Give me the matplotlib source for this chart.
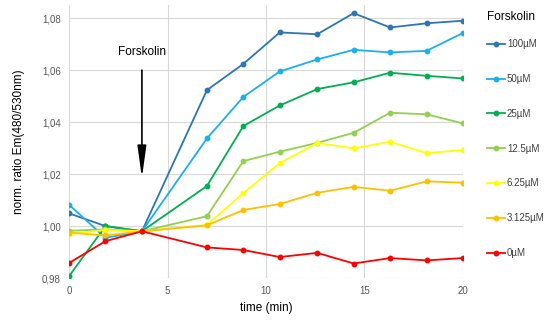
import matplotlib.pyplot as plt
from matplotlib.ticker import FuncFormatter, MultipleLocator

plt.rcParams['font.family'] = ['Liberation Sans', 'DejaVu Sans']

# time points (min)
time = [0, 1.85, 3.7, 7.0, 8.85, 10.7, 12.6, 14.45, 16.3, 18.15, 20]

labels = ['100µM', '50µM', '25µM', '12.5µM', '6.25µM', '3.125µM', '0µM']
colors = ['#2e75b6', '#1ab0f0', '#00b050', '#92d050', '#ffff00', '#ffc000', '#ff0000']

c100 = [1.0049, 1.0000, 0.998, 1.0523, 1.0624, 1.0745, 1.0738, 1.0819, 1.0764, 1.0780, 1.0790]
c50 = [1.0082, 0.9955, 0.998, 1.0337, 1.0497, 1.0595, 1.0641, 1.0678, 1.0668, 1.0674, 1.0743]
c25 = [0.9807, 1.0000, 0.998, 1.0154, 1.0385, 1.0464, 1.0527, 1.0553, 1.0590, 1.0578, 1.0568]
c12 = [0.9982, 0.9987, 0.998, 1.0038, 1.0250, 1.0286, 1.0320, 1.0359, 1.0436, 1.0430, 1.0395]
c6 = [0.9969, 0.9985, 0.998, 1.0004, 1.0127, 1.0242, 1.0320, 1.0299, 1.0324, 1.0281, 1.0292]
c3 = [0.9975, 0.9964, 0.998, 1.0003, 1.0062, 1.0085, 1.0128, 1.0151, 1.0136, 1.0172, 1.0167]
c0 = [0.9858, 0.9942, 0.998, 0.9918, 0.9908, 0.9881, 0.9897, 0.9856, 0.9877, 0.9868, 0.9877]
series = [c100, c50, c25, c12, c6, c3, c0]

fig = plt.figure(figsize=(5.5, 3.2), dpi=100)
ax = fig.add_axes([0.1255, 0.131, 0.7163, 0.853])

for vals, lab, col in zip(series, labels, colors):
    ax.plot(time, vals, color=col, lw=1.3, marker='o', ms=3.2, label=lab)

ax.set_xlim(0, 20)
ax.set_ylim(0.98, 1.085)
ax.xaxis.set_major_locator(MultipleLocator(5))
ax.set_yticks([0.98, 1.00, 1.02, 1.04, 1.06, 1.08])
ax.yaxis.set_major_formatter(FuncFormatter(lambda v, p: f'{v:.2f}'.replace('.', ',')))
ax.grid(True, color='#d9d9d9', lw=0.8)
ax.set_axisbelow(True)
for s in ax.spines.values():
    s.set_visible(False)
ax.tick_params(length=0, labelsize=7, labelcolor='#595959', pad=6)

ax.set_xlabel('time (min)', fontsize=8.5, labelpad=4)
ax.set_ylabel('norm. ratio Em(480/530nm)', fontsize=8.5, labelpad=12)

# forskolin addition arrow
ax.annotate('', xy=(3.7, 1.0185), xytext=(3.7, 1.06),
            arrowprops=dict(arrowstyle='-|>,head_length=1.6,head_width=0.22',
                            color='black', lw=1.2, mutation_scale=12,
                            shrinkA=0, shrinkB=0))
ax.text(3.7, 1.0645, 'Forskolin', ha='center', va='bottom', fontsize=8.5)

# legend with separate title
fig.text(0.885, 1 - 17 / 320, 'Forskolin', ha='left', va='center', fontsize=8.5)
leg = ax.legend(loc='upper left', bbox_to_anchor=(1.062, 0.875), frameon=False,
                fontsize=7, handlelength=1.8, handletextpad=0.2,
                labelspacing=2.55, borderpad=0, borderaxespad=0)
for t in leg.get_texts():
    t.set_color('#404040')

fig.savefig('out.png', dpi=100)
